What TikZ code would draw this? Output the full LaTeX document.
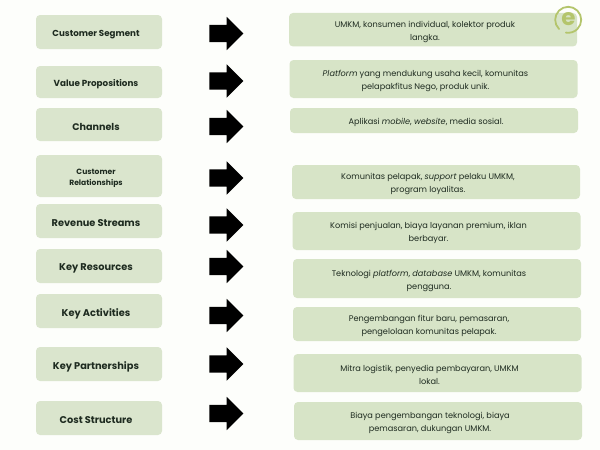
\documentclass[tikz,border=0pt]{standalone}
\usepackage{fontspec}
\setmainfont{Poppins}
\usetikzlibrary{shapes.arrows}

\definecolor{pagewhite}{HTML}{FDFEFB}
\definecolor{leftgreen}{HTML}{DAE5CD}
\definecolor{rightgreen}{HTML}{D7E4C7}
\definecolor{inkgreen}{HTML}{1E2B20}
\definecolor{logogreen}{HTML}{B4C56C}

\tikzset{
	keybox/.style={fill=leftgreen, rounded corners=4pt, minimum width=126pt, inner sep=0pt},
	textbox/.style={fill=rightgreen, rounded corners=4pt, minimum width=288pt, inner sep=0pt},
	keytext/.style={align=center, text=inkgreen, inner sep=0pt, xshift=-3pt, yshift=-2.5pt, font=\fontsize{9.8}{11}\selectfont\bfseries},
	bodytext/.style={align=center, text=inkgreen, inner sep=0pt, xshift=-8pt, yshift=-2.2pt, font=\fontsize{8.2}{13.4}\selectfont},
	fatarrow/.style={single arrow, fill=black, inner sep=8.5pt, minimum height=34pt, single arrow head extend=8pt, single arrow head indent=0pt, single arrow tip angle=90}
}

\begin{document}
\begin{tikzpicture}[x=1pt, y=-1pt]
	\useasboundingbox (0,0) rectangle (600,450);
	\fill[pagewhite] (0,0) rectangle (600,450);

	\node[keybox, minimum height=34pt] (segment) at (99,32) {};
	\node[keybox, minimum height=32pt] (value) at (99,82) {};
	\node[keybox, minimum height=33pt] (channels) at (99,124.5) {};
	\node[keybox, minimum height=42pt] (relations) at (99,176) {};
	\node[keybox, minimum height=34pt] (revenue) at (99,221) {};
	\node[keybox, minimum height=34pt] (resources) at (99,266) {};
	\node[keybox, minimum height=34pt] (activities) at (99,311) {};
	\node[keybox, minimum height=34pt] (partners) at (99,364) {};
	\node[keybox, minimum height=34pt] (cost) at (99,418) {};

	\node[fatarrow] (arrow1) at (222,33.5) {};
	\node[fatarrow] (arrow2) at (222,81) {};
	\node[fatarrow] (arrow3) at (222,126.5) {};
	\node[fatarrow] (arrow4) at (222,178) {};
	\node[fatarrow] (arrow5) at (222,225) {};
	\node[fatarrow] (arrow6) at (222,266.5) {};
	\node[fatarrow] (arrow7) at (222,315.5) {};
	\node[fatarrow] (arrow8) at (222,364) {};
	\node[fatarrow] (arrow9) at (222,413.5) {};

	\node[textbox, minimum height=33.5pt] (segmentbox) at (433,29.7) {};
	\node[textbox, minimum height=38pt] (valuebox) at (433.5,79) {};
	\node[textbox, minimum height=25pt] (channelsbox) at (434,120.5) {};
	\node[textbox, minimum height=34pt] (relationsbox) at (436,182) {};
	\node[textbox, minimum height=38pt] (revenuebox) at (436.5,231) {};
	\node[textbox, minimum height=39pt] (resourcesbox) at (437,278.5) {};
	\node[textbox, minimum height=34pt] (activitiesbox) at (437,324) {};
	\node[textbox, minimum height=38pt] (partnersbox) at (437.5,373) {};
	\node[textbox, minimum height=38pt] (costbox) at (438,421) {};

	\node[keytext, font=\fontsize{8.7}{11}\selectfont\bfseries] (segmentlabel) at (segment) {Customer Segment};
	\node[keytext, font=\fontsize{8.8}{11}\selectfont\bfseries] (valuelabel) at (value) {Value Propositions};
	\node[keytext, font=\fontsize{9.6}{11}\selectfont\bfseries] (channelslabel) at (channels) {Channels};
	\node[keytext, font=\fontsize{7.6}{11.5}\selectfont\bfseries] (relationslabel) at (relations) {Customer\\Relationships};
	\node[keytext] (revenuelabel) at (revenue) {Revenue Streams};
	\node[keytext] (resourceslabel) at (resources) {Key Resources};
	\node[keytext] (activitieslabel) at (activities) {Key Activities};
	\node[keytext] (partnerslabel) at (partners) {Key Partnerships};
	\node[keytext] (costlabel) at (cost) {Cost Structure};

	\node[bodytext] (segmenttext) at (segmentbox) {UMKM, konsumen individual, kolektor produk\\langka.};
	\node[bodytext] (valuetext) at (valuebox) {\textit{Platform} yang mendukung usaha kecil, komunitas\\pelapakfitus Nego, produk unik.};
	\node[bodytext] (channelstext) at (channelsbox) {Aplikasi \textit{mobile}, \textit{website}, media sosial.};
	\node[bodytext] (relationstext) at (relationsbox) {Komunitas pelapak, \textit{support} pelaku UMKM,\\program loyalitas.};
	\node[bodytext] (revenuetext) at (revenuebox) {Komisi penjualan, biaya layanan premium, iklan\\berbayar.};
	\node[bodytext] (resourcestext) at (resourcesbox) {Teknologi \textit{platform}, \textit{database} UMKM, komunitas\\pengguna.};
	\node[bodytext] (activitiestext) at (activitiesbox) {Pengembangan fitur baru, pemasaran,\\pengelolaan komunitas pelapak.};
	\node[bodytext] (partnerstext) at (partnersbox) {Mitra logistik, penyedia pembayaran, UMKM\\lokal.};
	\node[bodytext] (costtext) at (costbox) {Biaya pengembangan teknologi, biaya\\pemasaran, dukungan UMKM.};

	\draw[logogreen, line width=1.8pt, line cap=round] (559,29) arc[start angle=225, end angle=-100, radius=13pt];
	\node[text=logogreen, font=\fontsize{23}{23}\selectfont\bfseries, inner sep=0pt] (logo) at (568.5,19) {e};
\end{tikzpicture}
\end{document}
